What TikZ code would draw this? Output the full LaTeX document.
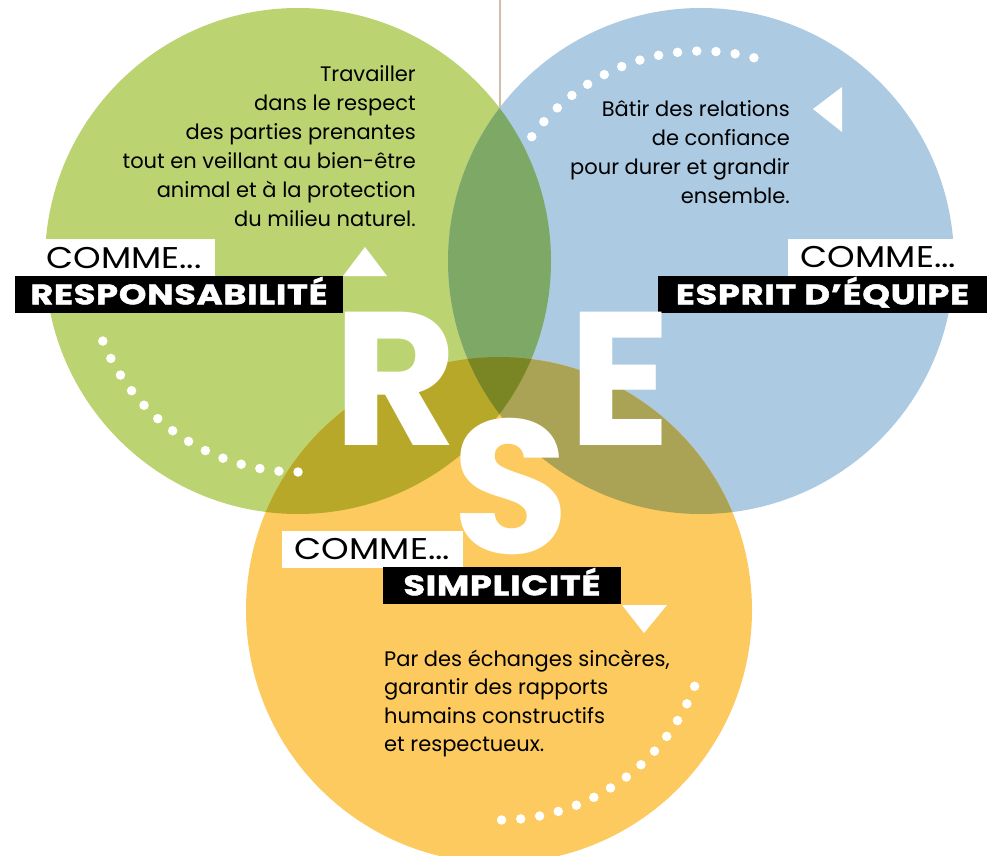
\documentclass[tikz,border=0pt]{standalone}
\usepackage{fontspec}
\setmainfont{Poppins}
\newfontfamily\heavyfont{Poppins}[FakeStretch=1.25, LetterSpace=3, BoldFeatures={FakeBold=2}]
\newfontfamily\commefont{Poppins}[FakeStretch=1.17]
\definecolor{cgreen}{RGB}{188,211,114}
\definecolor{cblue}{RGB}{172,202,226}
\definecolor{cyellow}{RGB}{252,202,94}
\definecolor{cgb}{RGB}{125,168,101}
\definecolor{cgy}{RGB}{184,168,42}
\definecolor{cby}{RGB}{170,162,85}
\definecolor{cgby}{RGB}{122,134,36}
\definecolor{ctan}{RGB}{210,190,168}
\tikzset{
  wdot/.style={circle, fill=white, minimum size=9.5pt, inner sep=0pt},
  bodytext/.style={font=\fontsize{21}{24}\selectfont, text=black, inner sep=0pt},
  commebox/.style={fill=white, inner sep=0pt, minimum height=37pt, text=black,
    text height=21pt, text depth=0pt, font=\commefont\fontsize{30}{30}\selectfont},
  namebox/.style={fill=black, inner xsep=0pt, inner ysep=0pt, minimum height=37pt, text=white,
    text height=19.5pt, text depth=0pt, font=\heavyfont\bfseries\fontsize{28}{30}\selectfont},
  bigletter/.style={font=\bfseries\fontsize{190}{190}\selectfont, text=white,
    inner xsep=-9pt, inner ysep=0pt, text height=133pt, text depth=0pt},
  tri/.style={fill=white}
}
\begin{document}
\begin{tikzpicture}[x=1pt,y=-1pt]
\useasboundingbox (0,0) rectangle (996,856);
\clip (0,0) rectangle (996,856);
\coordinate (G) at (298,261);
\coordinate (B) at (701,261);
\coordinate (Y) at (499,610);
% circles
\fill[cgreen] (G) circle[radius=253];
\fill[cblue] (B) circle[radius=253];
\fill[cyellow] (Y) circle[radius=253];
\begin{scope}
  \clip (G) circle[radius=253];
  \fill[cgb] (B) circle[radius=253];
  \fill[cgy] (Y) circle[radius=253];
\end{scope}
\begin{scope}
  \clip (B) circle[radius=253];
  \fill[cby] (Y) circle[radius=253];
\end{scope}
\begin{scope}
  \clip (G) circle[radius=253];
  \clip (B) circle[radius=253];
  \fill[cgby] (Y) circle[radius=253];
\end{scope}
% vertical line
\coordinate (ltop) at (500,0);
\coordinate (lbot) at (500,108);
\draw[ctan, line width=2.4pt] (ltop) -- (lbot);
% dots
\foreach \k in {0,...,13} {
  \node[wdot] (gd\k) at ([shift={({157.7-5.208*\k}:211)}]G) {};
  \node[wdot] (bd\k) at ([shift={({-143.7+5.254*\k}:210)}]B) {};
  \node[wdot] (yd\k) at ([shift={({89.3-5.23*\k}:210)}]Y) {};
}
% triangles
\fill[tri] (343,276) -- (365,247) -- (387,276) -- cycle;
\fill[tri] (813,109) -- (842,87) -- (842,132) -- cycle;
\fill[tri] (622,605) -- (667,605) -- (644,633) -- cycle;
% body texts
\foreach \t [count=\i] in {Travailler, dans le respect, des parties prenantes,
  tout en veillant au bien-être, animal et à la protection, du milieu naturel.}
  \node[bodytext, anchor=base east] (gt\i) at (416,{82+28.8*(\i-1)}) {\t};
\foreach \t [count=\i] in {Bâtir des relations, de confiance, pour durer et grandir, ensemble.}
  \node[bodytext, anchor=base east] (bt\i) at (790,{117+28.8*(\i-1)}) {\t};
\foreach \t [count=\i] in {{Par des échanges sincères,}, garantir des rapports, humains constructifs, et respectueux.}
  \node[bodytext, anchor=base west] (yt\i) at (384,{666+28.6*(\i-1)}) {\t};
% labels
\node[commebox, minimum width=182pt] (c1) at (124,257.5) {COMME...};
\node[namebox, minimum width=328pt] (n1) at (179,294.5) {RESPONSABILITÉ};
\node[commebox, minimum width=181pt] (c2) at (878.5,257) {COMME...};
\node[namebox, minimum width=329pt] (n2) at (822.5,294.5) {ESPRIT D’ÉQUIPE};
\node[commebox, minimum width=181pt] (c3) at (372.5,549) {COMME...};
\node[namebox, minimum width=238pt] (n3) at (502,585.5) {SIMPLICITÉ};
% big letters
\node[bigletter, anchor=base] (R) at (395,445) {R};
\node[bigletter, anchor=base] (E) at (620,445) {E};
\node[bigletter, anchor=base] (S) at (511,553) {S};
\end{tikzpicture}
\end{document}
